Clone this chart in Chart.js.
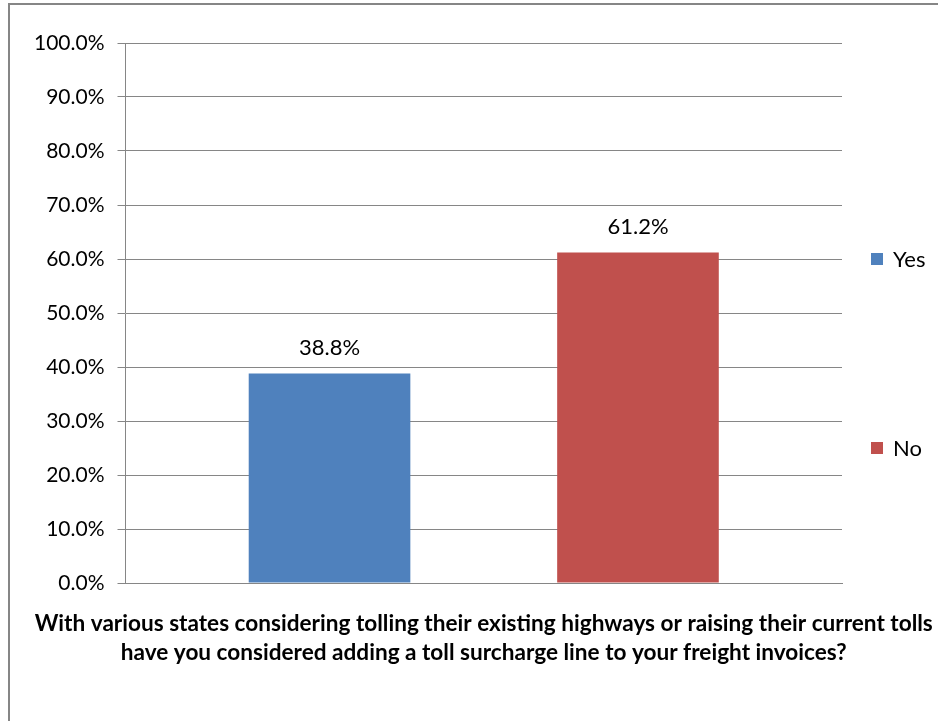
<!DOCTYPE html>
<html>
<head>
<meta charset="utf-8">
<script src="https://cdn.jsdelivr.net/npm/chart.js@4.4.0/dist/chart.umd.min.js"></script>
<style>
body{margin:0;background:#fff;}
#wrap{position:absolute;left:0;top:0;width:938px;height:721px;}
#frame{position:absolute;left:8px;top:3px;width:960px;height:760px;border:2px solid #868686;pointer-events:none;}
</style>
</head>
<body>
<div id="wrap"><canvas id="chart" width="938" height="721"></canvas></div>
<div id="frame"></div>
<script>
const categories=[""];
const seriesNames=["Yes","No"];
const yesValues=[38.8];
const noValues=[61.2];
const seriesColors=["#4F81BD","#C0504D"];
const questionLines=["With various states considering tolling their existing highways or raising their current tolls","have you considered adding a toll surcharge line to your freight invoices?"];

const fontFam="Lato, 'Open Sans', sans-serif";

// labels above bars
const valueLabels={
  id:'valueLabels',
  afterDatasetsDraw(chart){
    const ctx=chart.ctx;
    ctx.save();
    ctx.font="22px "+fontFam;
    ctx.fillStyle="#000";
    ctx.textAlign="center";
    ctx.textBaseline="bottom";
    chart.data.datasets.forEach((ds,i)=>{
      chart.getDatasetMeta(i).data.forEach((bar,j)=>{
        ctx.fillText(ds.data[j].toFixed(1)+"%",bar.x,bar.y-15);
      });
    });
    ctx.restore();
  }
};

// excel-style legend, entries spread down the right side
const sideLegend={
  id:'sideLegend',
  afterDraw(chart){
    const ctx=chart.ctx, a=chart.chartArea;
    const spots=[0.4,0.75];
    ctx.save();
    ctx.font="22px "+fontFam;
    ctx.textBaseline="middle";
    chart.data.datasets.forEach((ds,i)=>{
      const y=a.top+(a.bottom-a.top)*spots[i];
      ctx.fillStyle=ds.backgroundColor;
      ctx.fillRect(a.right+29,y-6,12,12);
      ctx.fillStyle="#000";
      ctx.fillText(ds.label,a.right+51,y+1);
    });
    ctx.restore();
  }
};

// axis caption under the plot, centred on the plot like excel does
const axisCaption={
  id:'axisCaption',
  afterDraw(chart){
    const ctx=chart.ctx, a=chart.chartArea;
    const cx=(a.left+a.right)/2;
    ctx.save();
    ctx.font="bold 22.6px "+fontFam;
    ctx.fillStyle="#000";
    ctx.textAlign="center";
    ctx.textBaseline="middle";
    questionLines.forEach((t,i)=>ctx.fillText(t,cx,a.bottom+41+i*29));
    ctx.restore();
  }
};

const myChart=new Chart(document.getElementById("chart"),
{   type:'bar',
    data:{
        labels:categories,
        datasets:[
            {label:seriesNames[0],data:yesValues,backgroundColor:seriesColors[0]},
            {label:seriesNames[1],data:noValues,backgroundColor:seriesColors[1]}
        ]},
    plugins:[valueLabels,sideLegend,axisCaption],
    options:{ responsive:false, animation:false,
        categoryPercentage:0.861, barPercentage:0.524,
        layout:{padding:{left:21,top:43,right:96,bottom:130}},
        plugins:{
            legend:{display:false},
            tooltip:{enabled:false}},
        scales:{
            x:{grid:{display:false},border:{color:'#868686'},ticks:{display:false}},
            y:{min:0,max:100,
               ticks:{stepSize:10,color:'#000',padding:13,font:{family:fontFam,size:21},callback:v=>v.toFixed(1)+"%"},
               grid:{color:'#868686',tickLength:8},border:{color:'#868686'}}
        }
    }
},
);
</script>
</body>
</html>
